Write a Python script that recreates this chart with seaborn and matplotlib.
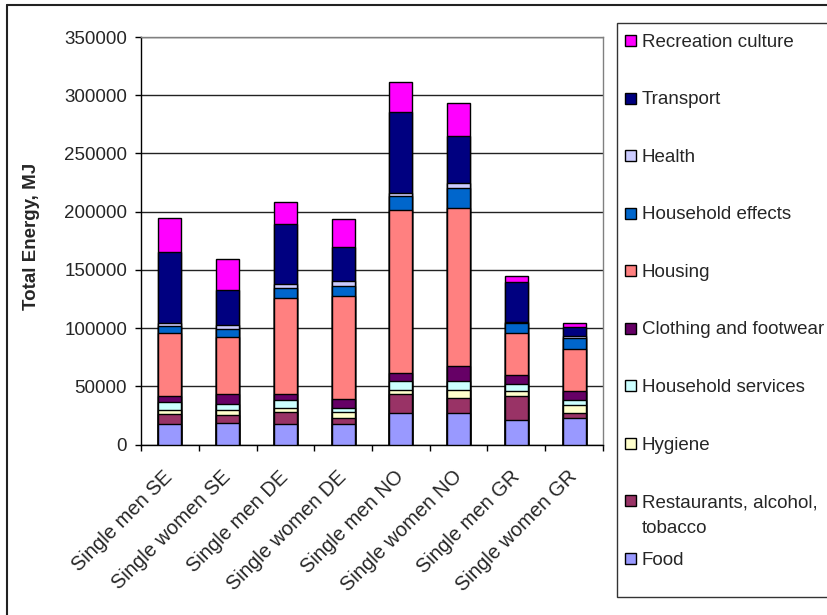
import numpy as np
import pandas as pd
import matplotlib
matplotlib.use("Agg")
import matplotlib.pyplot as plt
from matplotlib.patches import Rectangle
from matplotlib.lines import Line2D
from matplotlib.ticker import FixedLocator
import seaborn as sns

# Household groups (x axis)
groups = ["Single men SE", "Single women SE", "Single men DE", "Single women DE",
          "Single men NO", "Single women NO", "Single men GR", "Single women GR"]

# Consumption categories, stacked from the bottom up
categories = ["Food", "Restaurants, alcohol, tobacco", "Hygiene", "Household services",
              "Clothing and footwear", "Housing", "Household effects", "Health",
              "Transport", "Recreation culture"]

# Energy per category (MJ), one value per household group
food          = [17400, 18200, 17400, 17400, 27300, 27300, 20800, 23000]
restaurants   = [9300, 7100, 10700, 5100, 15900, 12700, 20700, 4600]
hygiene       = [2900, 4900, 3800, 5600, 4000, 7200, 4300, 6200]
hh_services   = [7000, 5100, 6800, 3800, 7900, 7900, 5900, 4900]
clothing      = [4900, 8500, 5100, 7000, 6600, 12800, 8500, 7600]
housing       = [54800, 48800, 82300, 88600, 139700, 134900, 35800, 35500]
hh_effects    = [5700, 7100, 8000, 9100, 11900, 17600, 8500, 9400]
health        = [2500, 2900, 3900, 3700, 2800, 4000, 1100, 2500]
transport     = [61300, 29800, 51500, 29000, 69100, 40300, 33900, 7700]
recreation    = [29000, 27300, 19000, 24100, 26500, 29000, 5700, 3100]

series = [food, restaurants, hygiene, hh_services, clothing, housing,
          hh_effects, health, transport, recreation]

colors = ["#9999FF", "#993366", "#FFFFCC", "#CCFFFF", "#660066",
          "#FF8080", "#0066CC", "#CCCCFF", "#000080", "#FF00FF"]

legend_labels = ["Food", "Restaurants, alcohol,\ntobacco", "Hygiene", "Household services",
                 "Clothing and footwear", "Housing", "Household effects", "Health",
                 "Transport", "Recreation culture"]

# Running totals for the stacked bars
df = pd.DataFrame({"group": groups})
cum = np.cumsum(np.array(series, dtype=float), axis=0)
for cat, col in zip(categories, cum):
    df[cat] = col

sns.set_theme(style="white")
plt.rcParams["font.family"] = ["Liberation Sans", "DejaVu Sans"]
FS = 13.5

W, H = 828, 615
fig = plt.figure(figsize=(W / 100, H / 100), dpi=100)
fig.patch.set_facecolor("white")

def fx(px):
    return px / W

def fy(py):
    return 1 - py / H

ax = fig.add_axes([fx(141), fy(444.7), fx(603) - fx(141), fy(37) - fy(444.7)])

# Draw the totals from the top category down so each lower segment overlays the one above
for cat, color in reversed(list(zip(categories, colors))):
    sns.barplot(data=df, x="group", y=cat, order=groups, color=color,
                width=0.4, edgecolor="black", linewidth=1.0, errorbar=None,
                saturation=1, ax=ax, zorder=3)

ax.set_ylim(0, 350000)
ax.set_xlim(-0.5, len(groups) - 0.5)
ax.set_yticks(np.arange(0, 350001, 50000))
ax.set_yticklabels([str(v) for v in range(0, 350001, 50000)], fontsize=FS)

ax.grid(axis="y", color="#222222", linewidth=1.0, zorder=0)
ax.grid(axis="x", visible=False)
ax.set_axisbelow(True)

for side in ["left", "bottom"]:
    ax.spines[side].set_color("black")
    ax.spines[side].set_linewidth(1.0)
for side in ["top", "right"]:
    ax.spines[side].set_color("#808080")
    ax.spines[side].set_linewidth(1.0)

ax.tick_params(axis="y", which="major", left=True, direction="out", length=4.5,
               width=1.0, color="black", pad=5.5, labelsize=FS)

# Category ticks sit between the bars; labels at bar centres
ax.set_xticks(range(len(groups)))
ax.set_xticklabels(groups, rotation=45, ha="right", rotation_mode="anchor",
                   va="center", fontsize=14.5)
ax.xaxis.set_minor_locator(FixedLocator(np.arange(-0.5, len(groups), 1.0)))
ax.tick_params(axis="x", which="major", bottom=True, length=0, pad=21)
ax.tick_params(axis="x", which="minor", bottom=True, direction="out", length=4,
               width=1.0, color="black")

ax.set_xlabel("")
ax.set_ylabel("Total Energy, MJ", fontsize=FS, fontweight="bold")
ax.yaxis.set_label_coords(-0.2186, 0.51)

# Outer chart frame
fig.add_artist(Line2D([fx(7), fx(7)], [fy(5), -0.1], color="#222222", linewidth=1.5))
fig.add_artist(Line2D([fx(7), 1.1], [fy(5), fy(5)], color="#222222", linewidth=1.5))

# Legend frame
fig.add_artist(Rectangle((fx(617), fy(597)), 1.0, fy(22.7) - fy(597),
                         transform=fig.transFigure, facecolor="white",
                         edgecolor="#333333", linewidth=1.0))

# Legend entries, top entry is the top segment of the stack
step = (558 - 40) / 9
for i, (lab, color) in enumerate(zip(reversed(legend_labels), reversed(colors))):
    cy = 40 + step * i
    fig.add_artist(Rectangle((fx(625.5), fy(cy + 6)), fx(11), fy(0) - fy(11),
                             transform=fig.transFigure, facecolor=color,
                             edgecolor="black", linewidth=1.0))
    lines = lab.split("\n")
    fig.text(fx(642), fy(cy + 6.7), lines[0], fontsize=FS, ha="left", va="baseline")
    for k, extra in enumerate(lines[1:], start=1):
        fig.text(fx(642), fy(cy + 6.7 + 26 * k), extra, fontsize=FS,
                 ha="left", va="baseline")

fig.savefig("out.png", dpi=100)
